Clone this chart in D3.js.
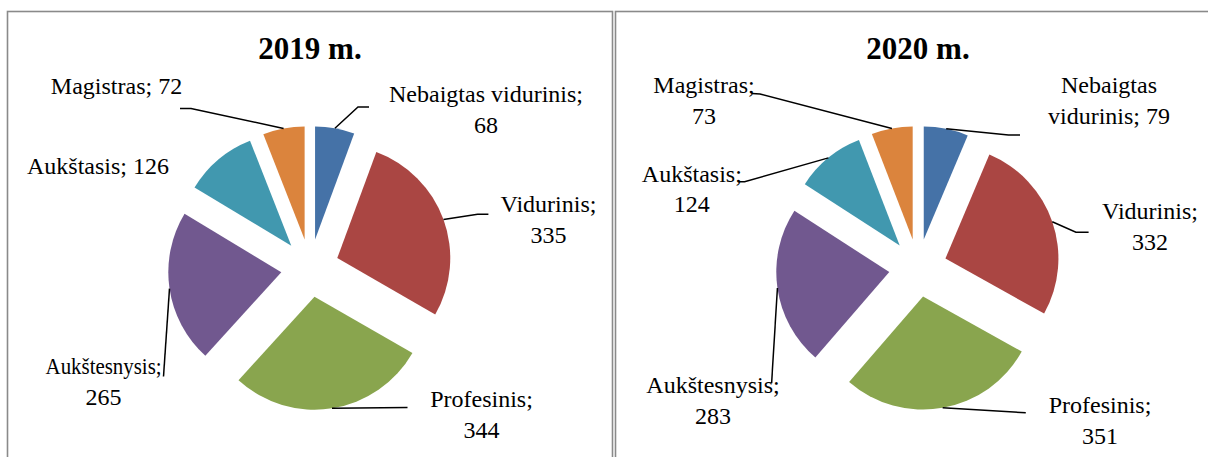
<!DOCTYPE html>
<html>
<head>
<meta charset="utf-8">
<script src="https://cdn.jsdelivr.net/npm/d3@7/dist/d3.min.js"></script>
<style>
  html, body { margin: 0; padding: 0; background: #fff; }
  svg { display: block; }
  text { font-family: "Liberation Serif", "Times New Roman", serif; fill: #000; }
</style>
</head>
<body>
<svg id="chart" width="1208" height="457"></svg>
<script>
// ---- data ----
const categories = ["Nebaigtas vidurinis", "Vidurinis", "Profesinis", "Aukštesnysis", "Aukštasis", "Magistras"];
const values2019 = [68, 335, 344, 265, 126, 72];
const values2020 = [79, 332, 351, 283, 124, 73];
const titles = ["2019 m.", "2020 m."];
const colors = ["#4572A7", "#AA4643", "#89A54E", "#71588F", "#4198AF", "#DB843D"];

// ---- layout (positions relative to pie centre) ----
const layout = [
  {
    cx: 310, cy: 268, boxX: 7.5,
    labels: [
      {mode: "two",  dx: 176,    dy: -166,   elbow: [[48, -161], [59, -161]]},
      {mode: "two",  dx: 238.5,  dy: -55.7,  elbow: [[167.6, -53.7], [178.4, -53.7]]},
      {mode: "two",  dx: 171.5,  dy: 139.3,  elbow: [[97.5, 139.5]]},
      {mode: "two",  dx: -206.4, dy: 106.3,  elbow: [[-146.5, 108.5]], squeeze: 116},
      {mode: "one",  dx: -212,   dy: -94,    elbow: null},
      {mode: "one",  dx: -193.5, dy: -173.7, elbow: [[-119, -159.5], [-130, -159.5]]}
    ]
  },
  {
    cx: 918, cy: 268, boxX: 615.5,
    labels: [
      {mode: "word", dx: 191,    dy: -174.7, elbow: [[90.5, -133], [102, -133]]},
      {mode: "two",  dx: 232,    dy: -48.7,  elbow: [[157.9, -35.7], [170.6, -35.7]]},
      {mode: "two",  dx: 182,    dy: 145.3,  elbow: [[107.8, 144.7]]},
      {mode: "two",  dx: -205,   dy: 125.3,  elbow: [[-146.4, 115.3]]},
      {mode: "two",  dx: -226.2, dy: -86.3,  elbow: [[-173.4, -86.3], [-179.2, -86.3]]},
      {mode: "two",  dx: -214,   dy: -174.7, elbow: [[-158, -174], [-166, -174.5]]}
    ]
  }
];

const R = 113, explode = 29, lineGap = 30.5;
const svg = d3.select("#chart");
const series = [values2019, values2020];

// chart boxes
layout.forEach(L => {
  svg.append("rect")
    .attr("x", L.boxX).attr("y", 11.5)
    .attr("width", 605).attr("height", 470)
    .attr("fill", "none").attr("stroke", "#8a8a8a").attr("stroke-width", 1.6);
});

const pie = d3.pie().sort(null).value(d => d.value);
const arc = d3.arc().innerRadius(0).outerRadius(R);

series.forEach((vals, ci) => {
  const L = layout[ci];
  const data = categories.map((c, i) => ({cat: c, value: vals[i], color: colors[i]}));
  const arcs = pie(data);
  const g = svg.append("g").attr("transform", `translate(${L.cx},${L.cy})`);

  // title
  svg.append("text")
    .attr("x", L.cx).attr("y", 59)
    .attr("text-anchor", "middle")
    .style("font-size", "31px").style("font-weight", "bold")
    .text(titles[ci]);

  // slices
  g.selectAll("path.slice").data(arcs).join("path")
    .attr("class", "slice")
    .attr("d", arc)
    .attr("fill", d => d.data.color)
    .attr("transform", d => {
      const m = (d.startAngle + d.endAngle) / 2;
      return `translate(${Math.sin(m) * explode},${-Math.cos(m) * explode})`;
    });

  // leader lines
  arcs.forEach((d, i) => {
    const lab = L.labels[i];
    if (!lab.elbow) return;
    const m = (d.startAngle + d.endAngle) / 2;
    const start = [Math.sin(m) * (R + explode), -Math.cos(m) * (R + explode)];
    const pts = [start].concat(lab.elbow);
    g.append("path")
      .attr("d", d3.line()(pts))
      .attr("fill", "none").attr("stroke", "#000").attr("stroke-width", 1.5);
  });

  // labels
  arcs.forEach((d, i) => {
    const lab = L.labels[i];
    let lines;
    if (lab.mode === "one") lines = [d.data.cat + "; " + d.data.value];
    else if (lab.mode === "two") lines = [d.data.cat + ";", String(d.data.value)];
    else {
      const words = d.data.cat.split(" ");
      lines = [words[0], words.slice(1).join(" ") + "; " + d.data.value];
    }
    const t = g.append("text")
      .attr("text-anchor", "middle")
      .style("font-size", "24px");
    lines.forEach((ln, k) => {
      const ts = t.append("tspan")
        .attr("x", lab.dx)
        .attr("y", lab.dy + k * lineGap)
        .text(ln);
      if (k === 0 && lab.squeeze) {
        ts.attr("textLength", lab.squeeze).attr("lengthAdjust", "spacingAndGlyphs");
      }
    });
  });
});
</script>
</body>
</html>
